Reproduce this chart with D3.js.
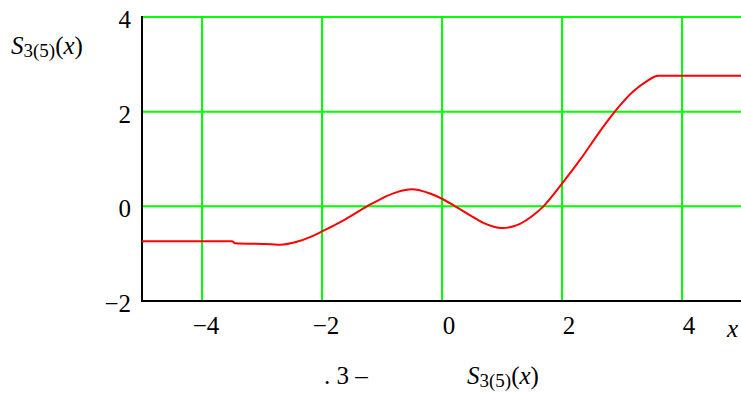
<!DOCTYPE html>
<html>
<head>
<meta charset="utf-8">
<script src="https://cdn.jsdelivr.net/npm/d3@7"></script>
</head>
<body style="margin:0">
<svg id="chart" width="741" height="394"></svg>
<script>
// spline S3(5)(x), values
const xs = [-5, -3.5, -3.45, -2.85, -2.7, -2.42, -2.2, -2.0, -1.65, -1.25, -1.0, -0.75, -0.5, -0.2, 0, 0.22, 0.47, 0.69, 1.0, 1.3, 1.52, 1.69, 2.0, 2.3, 2.63, 2.88, 3.19, 3.41, 3.6, 5];
const ys = [-0.74, -0.74, -0.78, -0.8, -0.81, -0.75, -0.65, -0.53, -0.30, 0.0, 0.17, 0.3, 0.36, 0.27, 0.16, 0.0, -0.19, -0.35, -0.46, -0.37, -0.19, 0.0, 0.48, 0.98, 1.58, 2.0, 2.43, 2.64, 2.76, 2.76];

const xTicks = [-4, -2, 0, 2, 4];
const yTicks = [-2, 0, 2, 4];

const svg = d3.select('#chart');
const margin = { left: 142, right: 742, top: 17, bottom: 301 };

const x = d3.scaleLinear().domain([-5, 5]).range([margin.left, margin.right]);
const y = d3.scaleLinear().domain([-2, 4]).range([margin.bottom, margin.top]);

const green = '#00ff00';
const fam = d => '"Times New Roman"';

// labels first
const labels = svg.append('g');
const fmt = d3.format('d');

labels.selectAll('text.yt')
    .data(yTicks)
    .join('text')
    .attr('class', 'yt')
    .attr('x', 131)
    .attr('y', d => y(d) + 11)
    .attr('text-anchor', 'end')
    .style('font-family', fam)
    .style('font-size', '25px')
    .text(fmt);

labels.selectAll('text.xt')
    .data(xTicks)
    .join('text')
    .attr('class', 'xt')
    .attr('x', d => x(d) + (d < 0 ? 4 : 7))
    .attr('y', 334)
    .attr('text-anchor', 'middle')
    .style('font-family', fam)
    .style('font-size', '25px')
    .text(fmt);

labels.append('text')
    .attr('x', 727).attr('y', 337)
    .style('font-family', fam)
    .style('font-size', '25px').style('font-style', 'italic')
    .text('x');

function sLabel(g, px, py) {
    const t = g.append('text').attr('x', px).attr('y', py)
        .style('font-family', fam).style('font-size', '25px');
    t.append('tspan').style('font-family', fam).style('font-style', 'italic').text('S');
    t.append('tspan').style('font-family', fam).attr('dy', 3).style('font-size', '19px').text('3(5)');
    t.append('tspan').style('font-family', fam).attr('dy', -3).text('(');
    t.append('tspan').style('font-family', fam).style('font-style', 'italic').text('x');
    t.append('tspan').style('font-family', fam).text(')');
}

sLabel(labels, 11, 54);

labels.append('text')
    .attr('x', 324).attr('y', 384)
    .style('font-family', fam)
    .style('font-size', '25px')
    .text('. 3 –');
sLabel(labels, 467, 384);

// grid
svg.append('g').selectAll('line')
    .data(xTicks)
    .join('line')
    .attr('x1', d => x(d)).attr('x2', d => x(d))
    .attr('y1', margin.top).attr('y2', margin.bottom)
    .style('stroke', green).style('stroke-width', 2);

svg.append('g').selectAll('line')
    .data(yTicks.filter(d => d > -2))
    .join('line')
    .attr('x1', margin.left).attr('x2', margin.right)
    .attr('y1', d => y(d)).attr('y2', d => y(d))
    .style('stroke', green).style('stroke-width', 2);

// axes frame (left + bottom only)
svg.append('path')
    .attr('d', `M ${margin.left} ${margin.top - 1} V ${margin.bottom} H ${margin.right}`)
    .style('fill', 'none').style('stroke', '#000').style('stroke-width', 2);

// curve
const line = d3.line()
    .x((d, i) => x(xs[i]))
    .y(d => y(d))
    .curve(d3.curveMonotoneX);

svg.append('path')
    .datum(ys)
    .attr('d', line)
    .style('fill', 'none')
    .style('stroke', '#ff0000')
    .style('stroke-width', 2);
</script>
</body>
</html>
